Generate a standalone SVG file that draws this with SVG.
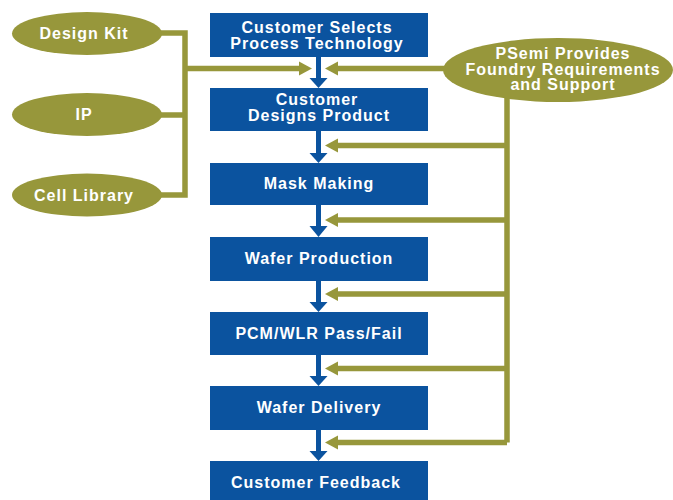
<svg xmlns="http://www.w3.org/2000/svg" width="673" height="500" viewBox="0 0 673 500">
<defs>
<style>
.box{fill:#0b539f}
.ell{fill:#97973b}
.t{font-family:"Liberation Sans",Arial,sans-serif;font-weight:bold;font-size:16px;fill:#fff;text-anchor:middle;letter-spacing:1px}
.ol{stroke:#97973b;stroke-width:5.5;fill:none}
.bl{stroke:#0b539f;stroke-width:5;fill:none}
.oh{fill:#97973b}
.bh{fill:#0b539f}
</style>
</defs>
<rect width="673" height="500" fill="#fff"/>
<g id="connectors">
<path class="ol" d="M150 33 H185 V195 H150 M150 115 H185 M185 68.5 H300"/>
<polygon class="oh" points="312,68.5 299,61.5 299,75.5"/>
<path class="ol" d="M450 68.5 H337 M507 98 V442.5 M507 145.5 H337 M507 220 H337 M507 294 H337 M507 368.5 H337 M507 442.5 H337"/>
<polygon class="oh" points="325,68.5 338,61.5 338,75.5"/>
<polygon class="oh" points="325,145.5 338,138.5 338,152.5"/>
<polygon class="oh" points="325,220 338,213 338,227"/>
<polygon class="oh" points="325,294 338,287 338,301"/>
<polygon class="oh" points="325,368.5 338,361.5 338,375.5"/>
<polygon class="oh" points="325,442.5 338,435.5 338,449.5"/>
<path class="bl" d="M318.5 57 V79 M318.5 131 V154 M318.5 205 V227 M318.5 281 V303 M318.5 355 V377 M318.5 430 V452"/>
<polygon class="bh" points="309.5,78 327.5,78 318.5,88"/>
<polygon class="bh" points="309.5,153 327.5,153 318.5,163"/>
<polygon class="bh" points="309.5,226 327.5,226 318.5,237"/>
<polygon class="bh" points="309.5,302 327.5,302 318.5,312"/>
<polygon class="bh" points="309.5,376 327.5,376 318.5,386"/>
<polygon class="bh" points="309.5,451 327.5,451 318.5,461"/>
</g>
<g id="design-kit"><ellipse class="ell" cx="87" cy="33.5" rx="75" ry="21.5"/><text class="t" x="84" y="39">Design Kit</text></g>
<g id="ip"><ellipse class="ell" cx="87" cy="114.5" rx="75" ry="21.5"/><text class="t" x="84" y="120">IP</text></g>
<g id="cell-library"><ellipse class="ell" cx="87" cy="195" rx="75" ry="21.5"/><text class="t" x="84" y="201">Cell Library</text></g>
<g id="psemi"><ellipse class="ell" cx="558" cy="70" rx="115" ry="32"/>
<text class="t" x="563" y="58.5">PSemi Provides</text>
<text class="t" x="563" y="74.5">Foundry Requirements</text>
<text class="t" x="563" y="90">and Support</text></g>
<g id="select"><rect class="box" x="210" y="13" width="218" height="44"/><text class="t" x="317" y="33">Customer Selects</text><text class="t" x="317" y="49">Process Technology</text></g>
<g id="design"><rect class="box" x="210" y="88" width="218" height="43"/><text class="t" x="317" y="105">Customer</text><text class="t" x="319" y="120.5">Designs Product</text></g>
<g id="mask"><rect class="box" x="210" y="163" width="218" height="42"/><text class="t" x="319" y="189">Mask Making</text></g>
<g id="wafer"><rect class="box" x="210" y="237" width="218" height="44"/><text class="t" x="319" y="263.5">Wafer Production</text></g>
<g id="pcm"><rect class="box" x="210" y="312" width="218" height="43"/><text class="t" x="319" y="338.5">PCM/WLR Pass/Fail</text></g>
<g id="delivery"><rect class="box" x="210" y="386" width="218" height="44"/><text class="t" x="319" y="413">Wafer Delivery</text></g>
<g id="feedback"><rect class="box" x="210" y="461" width="218" height="44"/><text class="t" x="316" y="488">Customer Feedback</text></g>
</svg>
